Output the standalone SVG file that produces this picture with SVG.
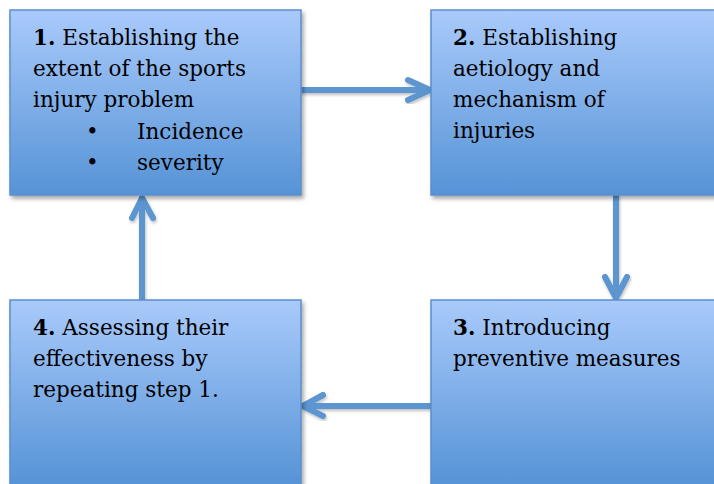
<svg xmlns="http://www.w3.org/2000/svg" width="714" height="484" viewBox="0 0 714 484">
  <defs>
    <linearGradient id="boxFill" x1="0" y1="0" x2="0" y2="1">
      <stop offset="0" stop-color="#a9cafb"/>
      <stop offset="1" stop-color="#5693d6"/>
    </linearGradient>
    <filter id="shadow" x="-10%" y="-10%" width="120%" height="130%">
      <feDropShadow dx="2" dy="3" stdDeviation="2" flood-color="#000" flood-opacity="0.35"/>
    </filter>
    <filter id="lineShadow" x="-20%" y="-20%" width="140%" height="140%">
      <feDropShadow dx="1" dy="2" stdDeviation="1.5" flood-color="#000" flood-opacity="0.25"/>
    </filter>
  </defs>
  <style>
    .box { fill: url(#boxFill); stroke: #5b8ecb; stroke-width: 1.5; filter: url(#shadow); }
    .label { font-family: "DejaVu Serif", "Liberation Serif", serif; font-size: 21.5px; fill: #000; }
    .num { font-weight: bold; }
    .conn { fill: none; stroke: #5b95d0; stroke-width: 6; stroke-linecap: round; stroke-linejoin: round; filter: url(#lineShadow); }
  </style>

  <g id="connectors">
    <!-- 1 to 2 -->
    <path class="conn" d="M302 90 H430 M408 80 L430 90 L408 100"/>
    <!-- 2 to 3 -->
    <path class="conn" d="M616 196 V298 M605 277 L616 298 L627 277"/>
    <!-- 3 to 4 -->
    <path class="conn" d="M430 406 H303 M323 395 L303 406 L323 416"/>
    <!-- 4 to 1 -->
    <path class="conn" d="M142 299 V198 M132 218 L142 198 L153 218"/>
  </g>

  <g id="step1">
    <rect class="box" x="10" y="10" width="291" height="185"/>
    <text class="label" x="33" y="45"><tspan class="num">1.</tspan> Establishing the</text>
    <text class="label" x="33" y="76">extent of the sports</text>
    <text class="label" x="33" y="107">injury problem</text>
    <text class="label" x="86" y="139">•</text>
    <text class="label" x="137" y="139">Incidence</text>
    <text class="label" x="86" y="170">•</text>
    <text class="label" x="137" y="170">severity</text>
  </g>

  <g id="step2">
    <rect class="box" x="431" y="10" width="291" height="185"/>
    <text class="label" x="453" y="45"><tspan class="num">2.</tspan> Establishing</text>
    <text class="label" x="453" y="76">aetiology and</text>
    <text class="label" x="453" y="107">mechanism of</text>
    <text class="label" x="453" y="138">injuries</text>
  </g>

  <g id="step3">
    <rect class="box" x="431" y="300" width="291" height="185"/>
    <text class="label" x="453" y="335"><tspan class="num">3.</tspan> Introducing</text>
    <text class="label" x="453" y="366">preventive measures</text>
  </g>

  <g id="step4">
    <rect class="box" x="10" y="300" width="291" height="185"/>
    <text class="label" x="33" y="335"><tspan class="num">4.</tspan> Assessing their</text>
    <text class="label" x="33" y="366">effectiveness by</text>
    <text class="label" x="33" y="397">repeating step 1.</text>
  </g>
</svg>
